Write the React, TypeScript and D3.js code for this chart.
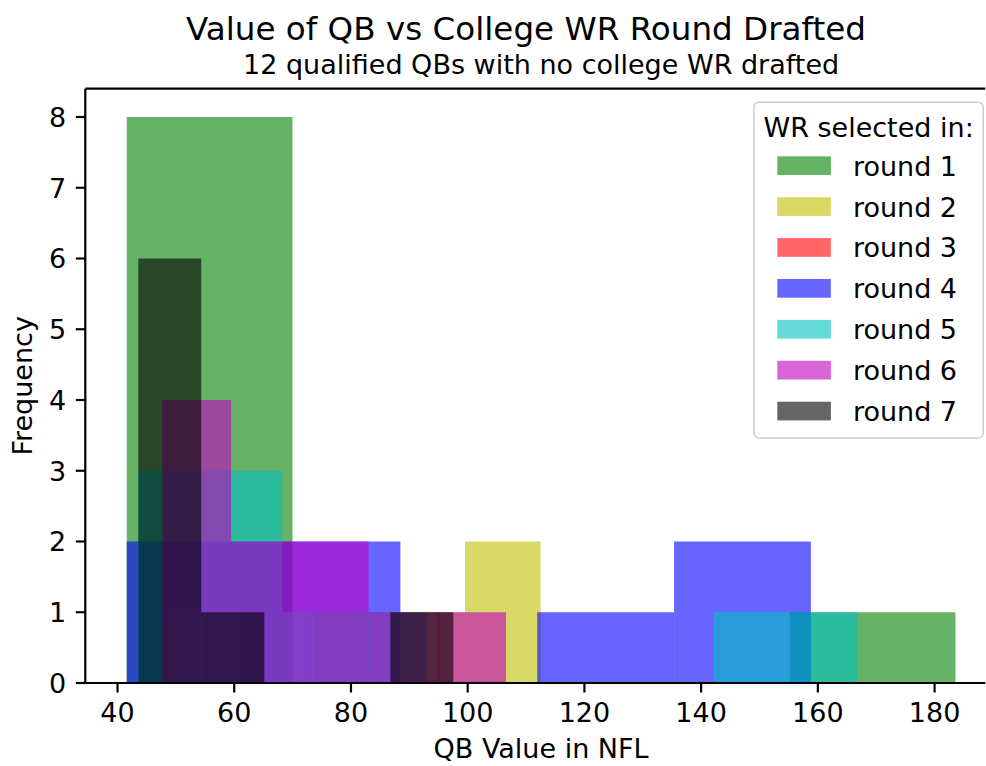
import React from "react";
import * as d3 from "d3";

// ---- data ----
const rounds = ["round 1", "round 2", "round 3", "round 4", "round 5", "round 6", "round 7"];
const roundColors = ["#008000", "#bfbf00", "#ff0000", "#0000ff", "#00bfbf", "#bf00bf", "#000000"];
// each round: histogram with 5 equal bins between its min and max QB value
const binMin = [41.58, 47.75, 94.5, 41.58, 43.56, 47.68, 43.56];
const binMax = [183.58, 112.5, 95.5, 158.81, 166.76, 106.57, 97.54];
const round1Counts = [8, 0, 0, 0, 1];
const round2Counts = [1, 0, 1, 1, 2];
const round3Counts = [0, 0, 1, 0, 0];
const round4Counts = [2, 2, 0, 1, 2];
const round5Counts = [3, 1, 0, 0, 1];
const round6Counts = [4, 2, 2, 1, 1];
const round7Counts = [6, 1, 0, 0, 1];
const allCounts = [round1Counts, round2Counts, round3Counts, round4Counts, round5Counts, round6Counts, round7Counts];
const xTicks = [40, 60, 80, 100, 120, 140, 160, 180];
const yTicks = [0, 1, 2, 3, 4, 5, 6, 7, 8];
const titleText = "Value of QB vs College WR Round Drafted";
const subtitleText = "12 qualified QBs with no college WR drafted";
const xLabel = "QB Value in NFL";
const yLabel = "Frequency";
const legendTitle = "WR selected in:";

export default function App() {
  const W = 986, H = 766;
  const left = 85.3, right = 996.9, top = 88.7, bottom = 683;
  const fs = 27;
  const font = "DejaVu Sans, sans-serif";

  const dMin = d3.min(binMin.filter((_, i) => i !== 2)) as number;
  const dMax = d3.max(binMax) as number;
  const span = dMax - dMin;
  const x = d3.scaleLinear().domain([dMin - 0.05 * span, dMax + 0.05 * span]).range([left, right]);
  const maxCount = d3.max(allCounts.flat()) as number;
  const y = d3.scaleLinear().domain([0, maxCount * 1.05]).range([bottom, top]);

  const bars: any[] = [];
  allCounts.forEach((counts, r) => {
    const edges = d3.range(counts.length + 1).map((k) => binMin[r] + (k * (binMax[r] - binMin[r])) / counts.length);
    counts.forEach((c, k) => {
      if (c <= 0) return;
      bars.push(
        <rect
          key={`b${r}-${k}`}
          x={x(edges[k])}
          y={y(c)}
          width={x(edges[k + 1]) - x(edges[k])}
          height={y(0) - y(c)}
          fill={roundColors[r]}
          fillOpacity={0.6}
        />
      );
    });
  });

  const legRight = right - 13.6;
  const legTop = top + 13.6;
  const legW = 229.4;
  const legH = 335.6;
  const legLeft = legRight - legW;
  const edgeX = W - 0.5; // the picture is cropped here; spines run to the edge

  return (
    <svg width={W} height={H} style={{ position: "absolute", left: 0, top: 0, background: "#fff", overflow: "hidden" }} fontFamily={font}>
      <defs>
        <clipPath id="pageClip">
          <rect x={0} y={0} width={edgeX} height={H} />
        </clipPath>
      </defs>
      <rect x={0} y={0} width={W} height={H} fill="#fff" />
      <g clipPath="url(#pageClip)">
        {bars}
        {/* spines (right spine falls outside the cropped picture) */}
        <line x1={left} x2={left} y1={top} y2={bottom} stroke="#000" strokeWidth={2.2} />
        <line x1={left} x2={edgeX} y1={bottom} y2={bottom} stroke="#000" strokeWidth={2.2} />
        <line x1={left} x2={edgeX} y1={top} y2={top} stroke="#000" strokeWidth={2.2} />
      </g>
      {/* x ticks */}
      {xTicks.map((t) => (
        <g key={`xt${t}`}>
          <line x1={x(t)} x2={x(t)} y1={bottom} y2={bottom + 9.5} stroke="#000" strokeWidth={2.2} />
          <text x={x(t)} y={722} fontSize={fs} textAnchor="middle" fill="#000">{t}</text>
        </g>
      ))}
      {/* y ticks */}
      {yTicks.map((t) => (
        <g key={`yt${t}`}>
          <line x1={left} x2={left - 9.5} y1={y(t)} y2={y(t)} stroke="#000" strokeWidth={2.2} />
          <text x={left - 19} y={y(t) + 9.8} fontSize={fs} textAnchor="end" fill="#000">{t}</text>
        </g>
      ))}
      {/* labels */}
      <text x={(left + right) / 2} y={758} fontSize={fs} textAnchor="middle" fill="#000">{xLabel}</text>
      <text transform={`translate(32,${(top + bottom) / 2}) rotate(-90)`} fontSize={fs} textAnchor="middle" fill="#000">{yLabel}</text>
      <text x={526} y={40} fontSize={32.6} textAnchor="middle" fill="#000">{titleText}</text>
      <text x={(left + right) / 2} y={74} fontSize={fs} textAnchor="middle" fill="#000">{subtitleText}</text>
      {/* legend */}
      <g>
        <rect x={legLeft} y={legTop} width={legW} height={legH} rx={5} ry={5} fill="#fff" fillOpacity={0.8} stroke="#cccccc" strokeWidth={1.5} />
        <text x={legLeft + legW / 2} y={legTop + 35} fontSize={fs} textAnchor="middle" fill="#000">{legendTitle}</text>
        {rounds.map((name, i) => {
          const py = legTop + 54 + i * 40.9;
          return (
            <g key={name}>
              <rect x={legLeft + 23.4} y={py} width={53.6} height={18.7} fill={roundColors[i]} fillOpacity={0.6} />
              <text x={legLeft + 99} y={py + 9.35 + 10} fontSize={fs} fill="#000">{name}</text>
            </g>
          );
        })}
      </g>
    </svg>
  );
}
